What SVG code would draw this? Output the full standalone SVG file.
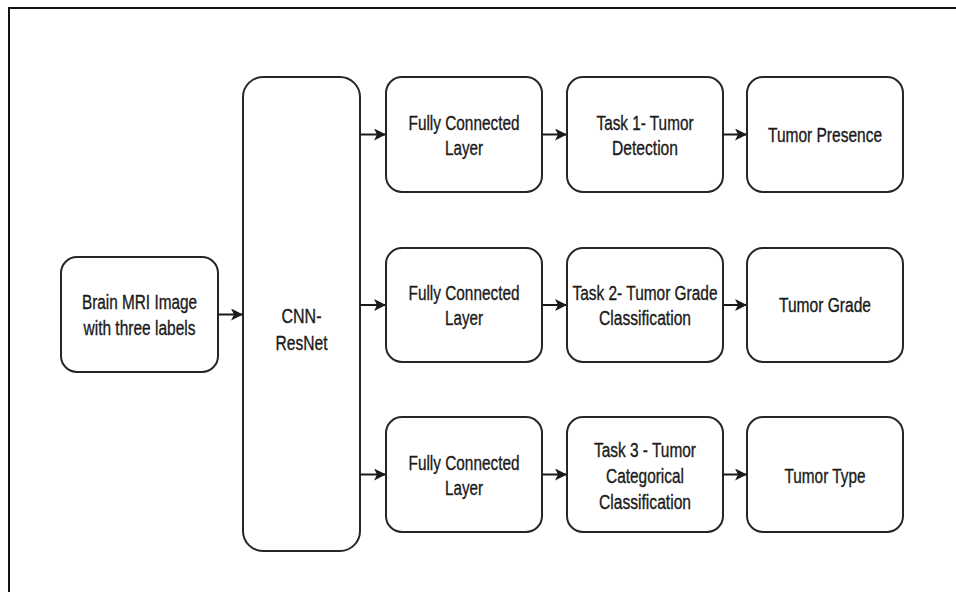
<svg xmlns="http://www.w3.org/2000/svg" width="956" height="592" viewBox="0 0 956 592">
<defs>
<marker id="ah" viewBox="0 0 12 12" refX="11" refY="6" markerWidth="12" markerHeight="12" markerUnits="userSpaceOnUse" orient="auto">
<path d="M0,0 L12,6 L0,12 L3,6 Z" fill="#1a1a1a"/>
</marker>
</defs>
<style>
.box{fill:#fff;stroke:#262626;stroke-width:2}
.t{font-family:"Liberation Sans",Arial,sans-serif;font-size:20px;fill:#1a1a1a;stroke:#1a1a1a;stroke-width:0.35;text-anchor:middle}
.c{stroke:#1a1a1a;stroke-width:2;fill:none;marker-end:url(#ah)}
.frame{stroke:#111;stroke-width:2;fill:none}
</style>
<rect width="956" height="592" fill="#fff"/>
<path class="frame" d="M9,592 L9,8 L956,8"/>

<g id="n-brain">
<rect class="box" x="61" y="257" width="157" height="115" rx="16"/>
<text class="t" x="139.5" y="309" textLength="115" lengthAdjust="spacingAndGlyphs">Brain MRI Image</text>
<text class="t" x="139.5" y="335" textLength="112" lengthAdjust="spacingAndGlyphs">with three labels</text>
</g>
<g id="n-cnn">
<rect class="box" x="243" y="77" width="117" height="474" rx="20"/>
<text class="t" x="301.5" y="323" textLength="40" lengthAdjust="spacingAndGlyphs">CNN-</text>
<text class="t" x="301.5" y="350" textLength="52" lengthAdjust="spacingAndGlyphs">ResNet</text>
</g>

<g id="n-fc1">
<rect class="box" x="386" y="77" width="156" height="115" rx="16"/>
<text class="t" x="464" y="130" textLength="111" lengthAdjust="spacingAndGlyphs">Fully Connected</text>
<text class="t" x="464" y="155" textLength="38" lengthAdjust="spacingAndGlyphs">Layer</text>
</g>
<g id="n-task1">
<rect class="box" x="567" y="77" width="156" height="115" rx="16"/>
<text class="t" x="645" y="130" textLength="97" lengthAdjust="spacingAndGlyphs">Task 1- Tumor</text>
<text class="t" x="645" y="155" textLength="66" lengthAdjust="spacingAndGlyphs">Detection</text>
</g>
<g id="n-out1">
<rect class="box" x="747" y="77" width="156" height="115" rx="16"/>
<text class="t" x="825" y="142" textLength="114" lengthAdjust="spacingAndGlyphs">Tumor Presence</text>
</g>

<g id="n-fc2">
<rect class="box" x="386" y="248" width="156" height="114" rx="16"/>
<text class="t" x="464" y="300" textLength="111" lengthAdjust="spacingAndGlyphs">Fully Connected</text>
<text class="t" x="464" y="325" textLength="38" lengthAdjust="spacingAndGlyphs">Layer</text>
</g>
<g id="n-task2">
<rect class="box" x="567" y="248" width="156" height="114" rx="16"/>
<text class="t" x="645" y="300" textLength="145" lengthAdjust="spacingAndGlyphs">Task 2- Tumor Grade</text>
<text class="t" x="645" y="325" textLength="92" lengthAdjust="spacingAndGlyphs">Classification</text>
</g>
<g id="n-out2">
<rect class="box" x="747" y="248" width="156" height="114" rx="16"/>
<text class="t" x="825" y="312" textLength="92" lengthAdjust="spacingAndGlyphs">Tumor Grade</text>
</g>

<g id="n-fc3">
<rect class="box" x="386" y="417" width="156" height="115" rx="16"/>
<text class="t" x="464" y="470" textLength="111" lengthAdjust="spacingAndGlyphs">Fully Connected</text>
<text class="t" x="464" y="495" textLength="38" lengthAdjust="spacingAndGlyphs">Layer</text>
</g>
<g id="n-task3">
<rect class="box" x="567" y="417" width="156" height="115" rx="16"/>
<text class="t" x="645" y="457" textLength="102" lengthAdjust="spacingAndGlyphs">Task 3 - Tumor</text>
<text class="t" x="645" y="483" textLength="78" lengthAdjust="spacingAndGlyphs">Categorical</text>
<text class="t" x="645" y="509" textLength="92" lengthAdjust="spacingAndGlyphs">Classification</text>
</g>
<g id="n-out3">
<rect class="box" x="747" y="417" width="156" height="115" rx="16"/>
<text class="t" x="825" y="483" textLength="81" lengthAdjust="spacingAndGlyphs">Tumor Type</text>
</g>

<g id="connectors">
<path class="c" d="M218,314.5 L242,314.5"/>
<path class="c" d="M360,134.5 L385,134.5"/>
<path class="c" d="M360,305 L385,305"/>
<path class="c" d="M360,474.5 L385,474.5"/>
<path class="c" d="M542,134.5 L566,134.5"/>
<path class="c" d="M542,305 L566,305"/>
<path class="c" d="M542,474.5 L566,474.5"/>
<path class="c" d="M723,134.5 L746,134.5"/>
<path class="c" d="M723,305 L746,305"/>
<path class="c" d="M723,474.5 L746,474.5"/>
</g>
</svg>
